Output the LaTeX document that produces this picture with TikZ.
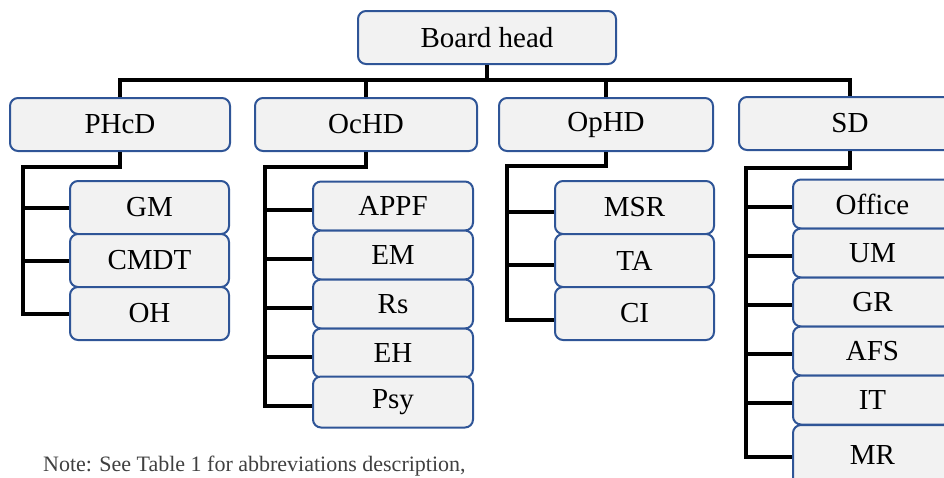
\documentclass[tikz,border=0pt]{standalone}
\usepackage{fontspec}
\setmainfont{Liberation Serif}
\definecolor{boxblue}{HTML}{2F5597}
\definecolor{boxfill}{HTML}{F2F2F2}
\definecolor{notegray}{HTML}{404040}
\tikzset{
  orgbox/.style={draw=boxblue, line width=2pt, fill=boxfill, rounded corners=8pt,
    inner sep=0pt, font=\fontsize{29}{29}\selectfont, text=black},
  topbox/.style={orgbox, minimum height=53pt},
  subbox/.style={orgbox, minimum width=159pt},
  conn/.style={draw=black, line width=4pt, line join=miter},
}
\begin{document}
\begin{tikzpicture}[x=1pt,y=-1pt]
\useasboundingbox (0,0) rectangle (944,477);
\clip (0,0) rectangle (944,477);
% top level
\node[topbox, minimum width=258pt] (bh) at (487,37.5) {Board head};
\node[topbox, minimum width=220pt] (phcd) at (120,124.5) {PHcD};
\node[topbox, minimum width=222pt] (ochd) at (366,124.5) {OcHD};
\node[topbox, minimum width=214pt] (ophd) at (606,124.5) {OpHD};
\node[topbox, minimum width=222pt] (sd) at (850,123.5) {SD};
\coordinate (bus) at (487,80);
\draw[conn] (bh.south) -- (bus);
\draw[conn] (phcd.north) |- (bus) -| (sd.north);
\draw[conn] (ochd.north) -- (ochd.north |- bus);
\draw[conn] (ophd.north) -- (ophd.north |- bus);
% PHcD children
\node[subbox, minimum height=53pt] (gm) at (149.5,207.5) {GM};
\node[subbox, minimum height=53pt] (cmdt) at (149.5,260.5) {CMDT};
\node[subbox, minimum height=53pt] (oh) at (149.5,313.5) {OH};
\coordinate (psp) at (23,167);
\draw[conn] (phcd.south) |- (psp) |- (oh.west);
\draw[conn] (psp |- gm.west) -- (gm.west);
\draw[conn] (psp |- cmdt.west) -- (cmdt.west);
% OcHD children
\node[subbox, minimum width=160pt, minimum height=49pt] (appf) at (393,206) {APPF};
\node[subbox, minimum width=160pt, minimum height=49pt] (em) at (393,255) {EM};
\node[subbox, minimum width=160pt, minimum height=49pt] (rs) at (393,304) {Rs};
\node[subbox, minimum width=160pt, minimum height=49pt] (eh) at (393,353) {EH};
\node[subbox, minimum width=160pt, minimum height=51pt] (psy) at (393,402) {Psy};
\coordinate (osp) at (265,167);
\draw[conn] (ochd.south) |- (osp) |- ([yshift=-4pt]psy.west);
\foreach \n in {appf,em,rs,eh}{
  \coordinate (tmp) at ([yshift=-4pt]\n.west);
  \draw[conn] (osp |- tmp) -- (tmp);
}
% OpHD children
\node[subbox, minimum height=53pt] (msr) at (634.5,207.5) {MSR};
\node[subbox, minimum height=53pt] (ta) at (634.5,260.5) {TA};
\node[subbox, minimum height=53pt] (ci) at (634.5,313.5) {CI};
\coordinate (opsp) at (507,166);
\draw[conn] (ophd.south) |- (opsp) |- ([yshift=-6pt]ci.west);
\foreach \n in {msr,ta}{
  \coordinate (tmp) at ([yshift=-4pt]\n.west);
  \draw[conn] (opsp |- tmp) -- (tmp);
}
% SD children
\node[subbox, minimum height=49pt] (office) at (872.5,204) {Office};
\node[subbox, minimum height=49pt] (um) at (872.5,253) {UM};
\node[subbox, minimum height=49pt] (gr) at (872.5,302) {GR};
\node[subbox, minimum height=49pt] (afs) at (872.5,351) {AFS};
\node[subbox, minimum height=49pt] (it) at (872.5,400) {IT};
\node[subbox, minimum height=60pt] (mr) at (872.5,455) {MR};
\coordinate (ssp) at (746,168);
\draw[conn] (sd.south) |- (ssp) |- ([yshift=-2pt]mr.west);
\foreach \n in {office,um,gr,afs,it}{
  \coordinate (tmp) at ([yshift=-3pt]\n.west);
  \draw[conn] (ssp |- tmp) -- (tmp);
}
% note
\node[anchor=base west, inner sep=0pt, text=notegray, font=\fontsize{22}{22}\selectfont] (note) at (43,471) {Note: See Table 1 for abbreviations description,};
\end{tikzpicture}
\end{document}
